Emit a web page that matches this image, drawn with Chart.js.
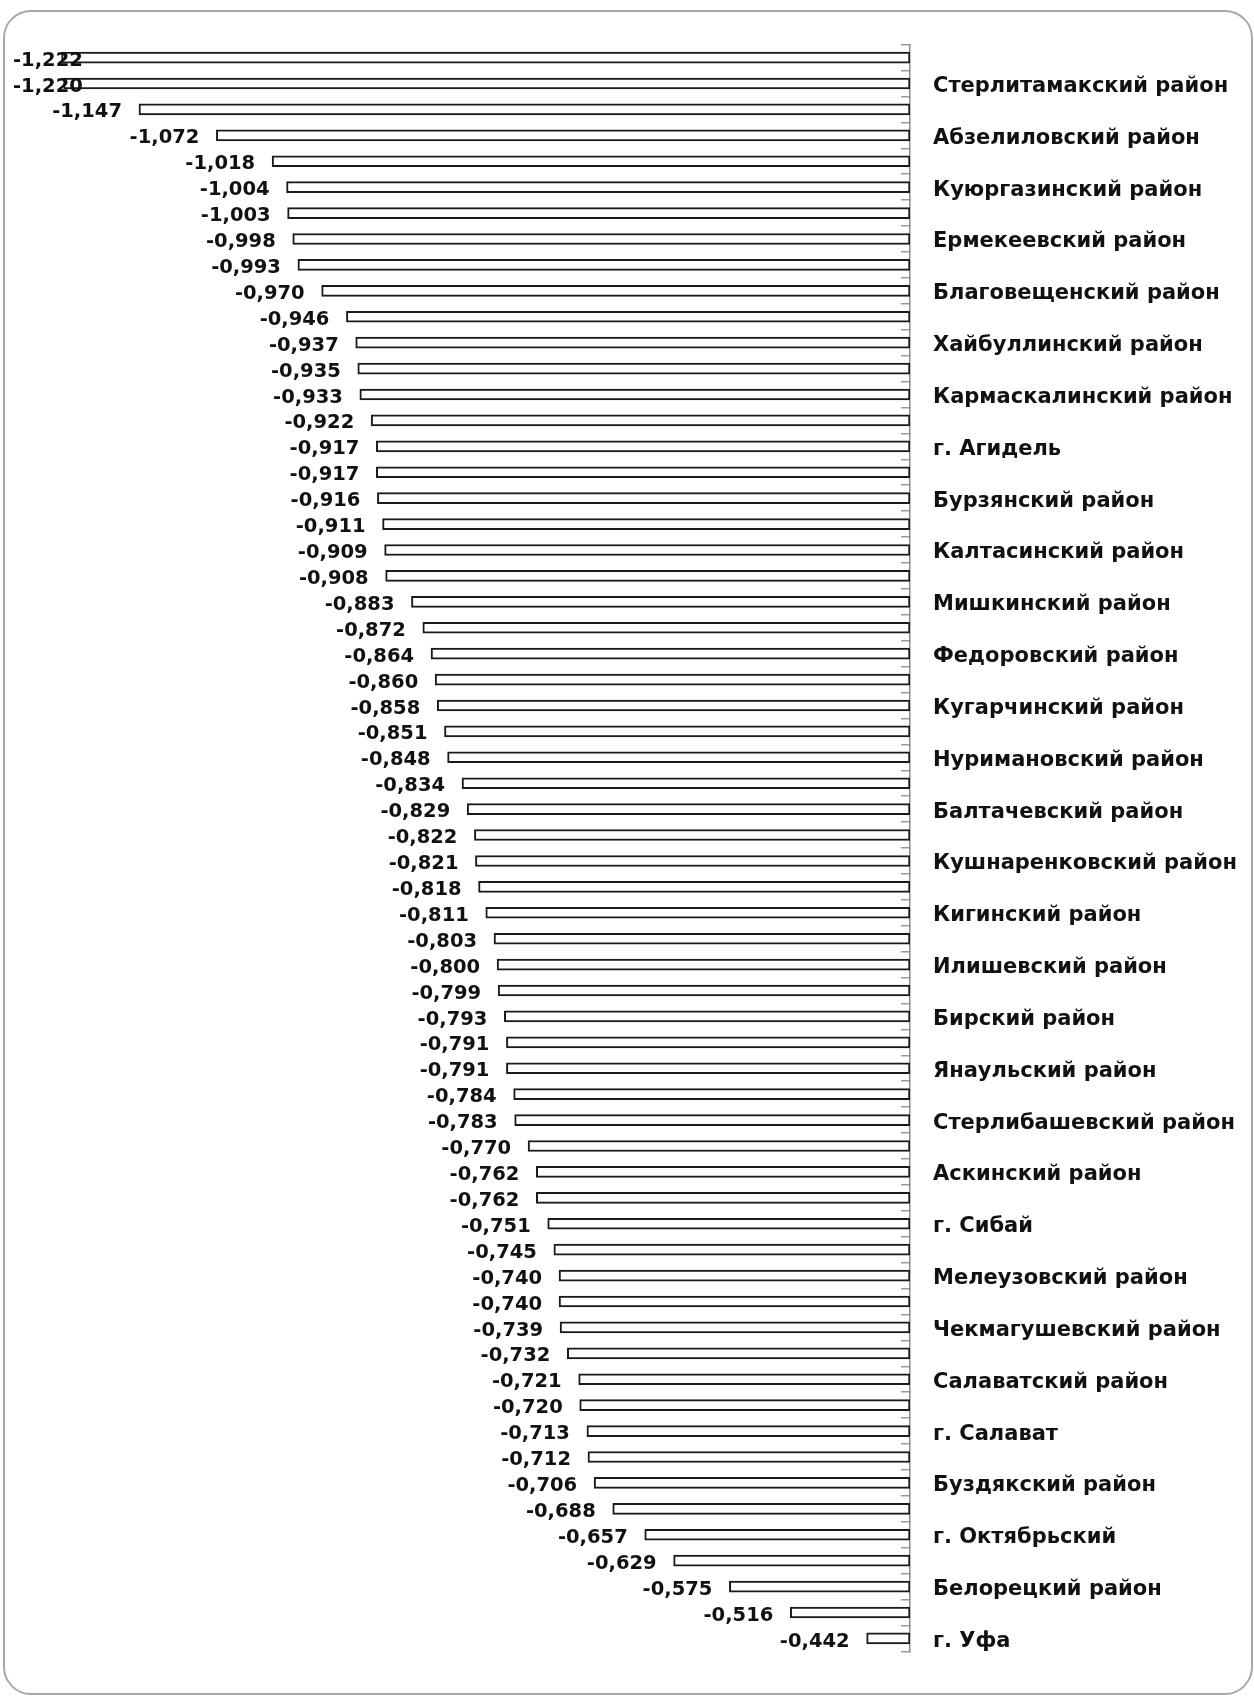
<!DOCTYPE html>
<html>
<head>
<meta charset="utf-8">
<script src="https://cdn.jsdelivr.net/npm/chart.js@4/dist/chart.umd.min.js"></script>
<style>
  body { margin: 0; background: #fff; }
  #wrap { position: relative; width: 1254px; height: 1696px; }
  #frame {
    position: absolute; left: 3px; top: 10px; width: 1246px; height: 1681px;
    border: 2px solid #a8a8a8; border-radius: 28px;
  }
  #chart { position: absolute; left: 0; top: 0; }
</style>
</head>
<body>
<div id="wrap">
  <div id="frame"></div>
  <canvas id="chart" width="1254" height="1696"></canvas>
</div>
<script>
// Values per district, top to bottom (only every other name is printed on the chart)
const values = [
  -1.222, -1.220, -1.147, -1.072, -1.018, -1.004, -1.003, -0.998, -0.993, -0.970,
  -0.946, -0.937, -0.935, -0.933, -0.922, -0.917, -0.917, -0.916, -0.911, -0.909,
  -0.908, -0.883, -0.872, -0.864, -0.860, -0.858, -0.851, -0.848, -0.834, -0.829,
  -0.822, -0.821, -0.818, -0.811, -0.803, -0.800, -0.799, -0.793, -0.791, -0.791,
  -0.784, -0.783, -0.770, -0.762, -0.762, -0.751, -0.745, -0.740, -0.740, -0.739,
  -0.732, -0.721, -0.720, -0.713, -0.712, -0.706, -0.688, -0.657, -0.629, -0.575,
  -0.516, -0.442
];

const categories = [
  '', 'Стерлитамакский район',
  '', 'Абзелиловский район',
  '', 'Куюргазинский район',
  '', 'Ермекеевский район',
  '', 'Благовещенский район',
  '', 'Хайбуллинский район',
  '', 'Кармаскалинский район',
  '', 'г. Агидель',
  '', 'Бурзянский район',
  '', 'Калтасинский район',
  '', 'Мишкинский район',
  '', 'Федоровский район',
  '', 'Кугарчинский район',
  '', 'Нуримановский район',
  '', 'Балтачевский район',
  '', 'Кушнаренковский район',
  '', 'Кигинский район',
  '', 'Илишевский район',
  '', 'Бирский район',
  '', 'Янаульский район',
  '', 'Стерлибашевский район',
  '', 'Аскинский район',
  '', 'г. Сибай',
  '', 'Мелеузовский район',
  '', 'Чекмагушевский район',
  '', 'Салаватский район',
  '', 'г. Салават',
  '', 'Буздякский район',
  '', 'г. Октябрьский',
  '', 'Белорецкий район',
  '', 'г. Уфа'
];

// value axis range (bars grow from the axis base)
const axisMin = -1.27;
const axisMax = -0.4;

const labelFont = 'bold 19.5px "DejaVu Sans", sans-serif';

function fmt(v) {
  return v.toFixed(3).replace('.', ',');
}

// Draw value labels to the left of each bar end
const valueLabels = {
  id: 'valueLabels',
  afterDatasetsDraw(chart) {
    const ctx = chart.ctx;
    const area = chart.chartArea;
    const meta = chart.getDatasetMeta(0);
    ctx.save();
    ctx.font = labelFont;
    ctx.fillStyle = '#111';
    ctx.textBaseline = 'middle';
    meta.data.forEach((bar, i) => {
      const text = fmt(values[i]);
      const w = ctx.measureText(text).width;
      let x = bar.x - 17;
      if (x - w < area.left + 1) {
        ctx.textAlign = 'left';
        x = area.left + 1;
      } else {
        ctx.textAlign = 'right';
      }
      ctx.fillText(text, x, bar.y + 3);
    });
    ctx.restore();
  }
};

new Chart(document.getElementById('chart'), {
  type: 'bar',
  data: {
    labels: categories,
    datasets: [{
      data: values,
      base: axisMax,
      backgroundColor: '#ffffff',
      borderColor: '#1a1a1a',
      borderWidth: 2,
      borderSkipped: false,
      barThickness: 11
    }]
  },
  options: {
    indexAxis: 'y',
    responsive: false,
    animation: false,
    layout: { padding: { top: 44, bottom: 23, left: 12, right: 0 } },
    plugins: {
      legend: { display: false },
      tooltip: { enabled: false }
    },
    scales: {
      x: {
        display: false,
        min: axisMin,
        max: axisMax
      },
      y: {
        position: 'right',
        offset: true,
        afterFit: (s) => { s.width = 344; },
        grid: {
          drawOnChartArea: false,
          offset: true,
          tickLength: -9,
          color: '#9a9a9a',
          lineWidth: 1.5
        },
        border: { display: true, color: '#8a8a8a', width: 1.5 },
        ticks: {
          autoSkip: false,
          padding: 32,
          labelOffset: 3,
          color: '#111',
          font: { family: '"DejaVu Sans", sans-serif', size: 21, weight: 'bold' }
        }
      }
    }
  },
  plugins: [valueLabels]
});
</script>
</body>
</html>
